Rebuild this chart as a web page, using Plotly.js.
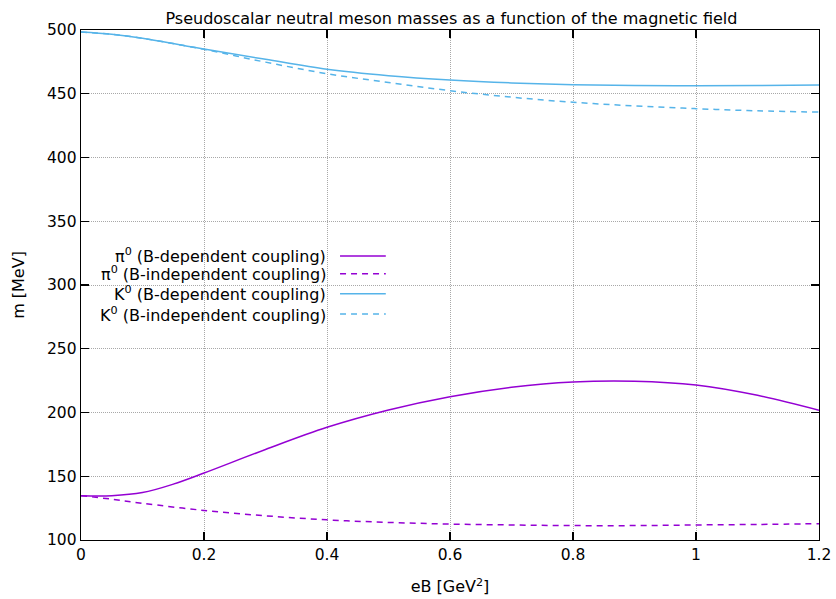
<!DOCTYPE html>
<html>
<head>
<meta charset="utf-8">
<script src="https://cdn.plot.ly/plotly-3.0.1.min.js"></script>
<style>html,body{margin:0;padding:0;background:#fff;}#chart{width:836px;height:599px;}</style>
</head>
<body>
<div id="chart"></div>
<script>
// Data
const xPiDep = [0, 0.05, 0.1, 0.15, 0.2, 0.3, 0.4, 0.5, 0.6, 0.7, 0.8, 0.9, 1.0, 1.1, 1.2];
const piDep  = [134.8, 134.8, 137.2, 143.8, 152.5, 171, 188.4, 202, 212.4, 219.8, 224, 224.6, 221.6, 213.5, 201.8];

const xGrid    = [0, 0.05, 0.1, 0.2, 0.3, 0.4, 0.5, 0.6, 0.7, 0.8, 0.9, 1.0, 1.1, 1.2];
const piIndep  = [134.8, 132, 128.8, 123.2, 119, 115.8, 113.8, 112.5, 111.8, 111.3, 111.3, 111.8, 112.2, 112.8];
const kDep     = [498.4, 496.6, 493.5, 485.1, 477, 469.2, 464.2, 460.8, 458.5, 457.1, 456.4, 456.3, 456.4, 456.8];
const kIndep   = [498.4, 496.6, 493.5, 484.8, 474.8, 465.7, 458.8, 452.4, 447.3, 443.3, 440.5, 438.3, 436.6, 435.6];

const legendLabels = [
  "π<sup>0</sup> (B-dependent coupling)",
  "π<sup>0</sup> (B-independent coupling)",
  "K<sup>0</sup> (B-dependent coupling)",
  "K<sup>0</sup> (B-independent coupling)"
];
const titleText = "Pseudoscalar neutral meson masses as a function of the magnetic field";
const xTitle = "eB [GeV<sup>2</sup>]";
const yTitle = "m [MeV]";

const purple = "#9400d3";
const blue = "#56b4e9";
const FONT = "DejaVu Sans, sans-serif";

const series = [
  {x: xPiDep, y: piDep, color: purple, dash: "solid"},
  {x: xGrid, y: piIndep, color: purple, dash: "6px,5px"},
  {x: xGrid, y: kDep, color: blue, dash: "solid"},
  {x: xGrid, y: kIndep, color: blue, dash: "6px,5px"}
];

const traces = series.map((s, i) => ({
  x: s.x, y: s.y, type: "scatter", mode: "lines",
  name: legendLabels[i],
  line: {color: s.color, width: 1.5, dash: s.dash, shape: "spline", smoothing: 1},
  showlegend: false, hoverinfo: "skip"
}));

// custom legend (text right, sample line at right, like gnuplot)
const rowY = [0.557, 0.522, 0.483, 0.443];
const annotations = legendLabels.map((t, i) => ({
  text: t, xref: "paper", yref: "paper", x: 0.3347, y: rowY[i],
  xanchor: "right", yanchor: "middle", showarrow: false,
  font: {family: FONT, size: 16, color: "#000"}
}));
const shapes = series.map((s, i) => ({
  type: "line", xref: "paper", yref: "paper",
  x0: 0.351, x1: 0.413, y0: rowY[i], y1: rowY[i],
  line: {color: s.color, width: 1.5, dash: s.dash}
}));

const axisCommon = {
  showline: true, linecolor: "#000", linewidth: 1.3, mirror: "ticks",
  ticks: "inside", ticklen: 8, tickcolor: "#000", tickwidth: 1.3,
  showgrid: true, gridcolor: "#a8a8a8", gridwidth: 1, griddash: "1px,1px",
  zeroline: false, tickfont: {family: FONT, size: 15.5, color: "#000"}
};

const layout = {
  width: 836, height: 599,
  margin: {l: 81, r: 17, t: 30, b: 59},
  paper_bgcolor: "#fff", plot_bgcolor: "#fff",
  title: {text: titleText, font: {family: FONT, size: 16, color: "#000"}, x: 0.54, xanchor: "center", y: 0.97, yanchor: "middle"},
  xaxis: Object.assign({}, axisCommon, {range: [0, 1.2], dtick: 0.2, tick0: 0,
    title: {text: xTitle, font: {family: FONT, size: 16, color: "#000"}, standoff: 18}}),
  yaxis: Object.assign({}, axisCommon, {range: [100, 500], dtick: 50, tick0: 100,
    title: {text: yTitle, font: {family: FONT, size: 16, color: "#000"}, standoff: 18}}),
  annotations: annotations,
  shapes: shapes,
  showlegend: false
};

Plotly.newPlot("chart", traces, layout, {displayModeBar: false, staticPlot: true});
</script>
</body>
</html>
